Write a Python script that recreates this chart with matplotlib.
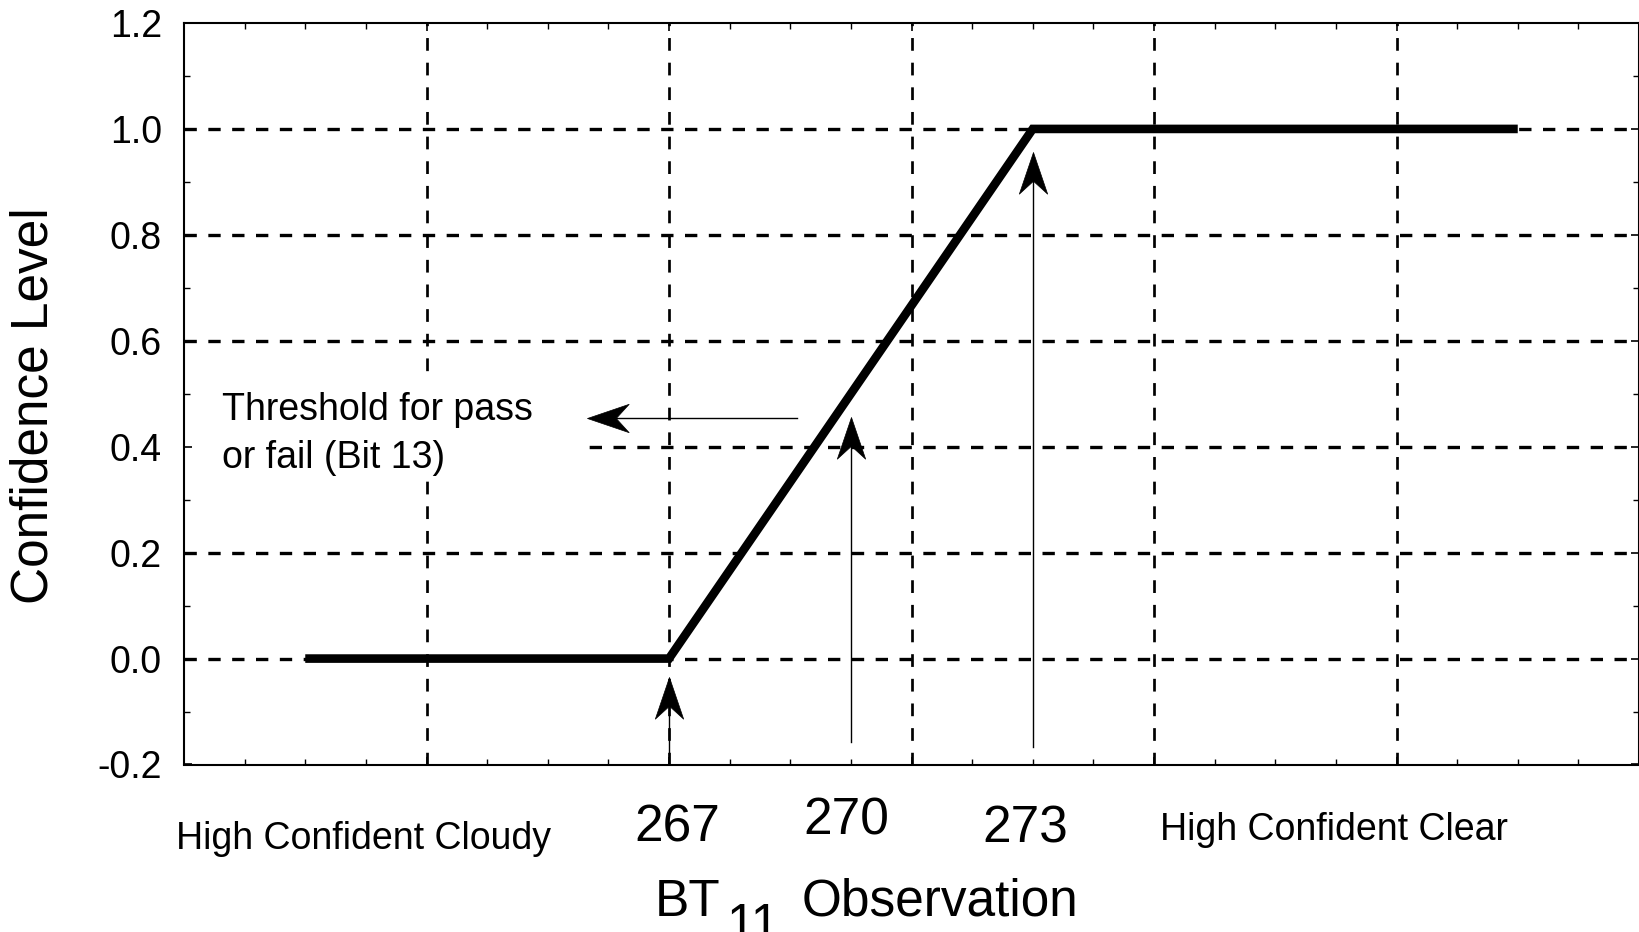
import numpy as np
import matplotlib
matplotlib.use("Agg")
import matplotlib.pyplot as plt
from matplotlib.path import Path
from matplotlib.patches import Rectangle

plt.rcParams['font.family'] = ['Liberation Sans', 'DejaVu Sans']

# confidence ramp for the BT11 test
bt_obs = [261, 267, 273, 281]
confidence = [0.0, 0.0, 1.0, 1.0]

# threshold arrows (high cloudy, pass/fail, high clear)
thresh_bt = [267, 270, 273]
thresh_labels = ["267", "270", "273"]
arrow_base = [-0.2, -0.157, -0.167]
arrow_tip = [-0.035, 0.456, 0.957]

# pass/fail pointer
pointer_x = [269.11, 265.65]
pointer_y = 0.455

x_major = np.arange(259, 284, 4)
x_minor = np.arange(259, 284, 1)
y_major = np.round(np.arange(-0.2, 1.21, 0.2), 1)
y_minor = np.round(np.arange(-0.2, 1.21, 0.1), 1)

W, H = 1639, 932


def stealth(direction="up"):
    verts = [(0, 0), (0.34, -1), (0, -0.69), (-0.34, -1), (0, 0)]
    if direction == "left":
        verts = [(-y, x) for x, y in verts]
    codes = [Path.MOVETO, Path.LINETO, Path.LINETO, Path.LINETO, Path.CLOSEPOLY]
    return Path(verts, codes)


fig = plt.figure(figsize=(W / 100, H / 100), dpi=100)
ax = fig.add_axes([184 / W, 1 - 764.5 / H, 1 - 184 / W, (764.5 - 23) / H])
ax.set_xlim(259, 283)
ax.set_ylim(-0.2, 1.2)

# dashed grid
for x in x_major[1:-1]:
    ax.axvline(x, color="k", lw=1.95, ls=(0, (4.7, 4.4)), zorder=1)
for y in y_major[1:-1]:
    ax.axhline(y, color="k", lw=2.4, ls=(0, (3.7, 3.45)), zorder=1)

# white box behind the annotation text
ax.add_patch(Rectangle((259, 0.339), 265.65 - 259, 0.539 - 0.339,
                       facecolor="white", edgecolor="none", zorder=1.5))

ax.plot(bt_obs, confidence, color="k", lw=6.2, solid_capstyle="butt",
        solid_joinstyle="miter", zorder=3)

# upward arrows
for bt, y0, y1 in zip(thresh_bt, arrow_base, arrow_tip):
    ax.plot([bt, bt], [y0, y1 - 0.04], color="k", lw=1.0, zorder=4, clip_on=False)
    ax.plot([bt], [y1], marker=stealth("up"), ms=60, color="k", mew=0.5,
            zorder=4, clip_on=False)

# left arrow
ax.plot([pointer_x[0], pointer_x[1] + 0.3], [pointer_y, pointer_y], color="k", lw=1.0, zorder=4)
ax.plot([pointer_x[1]], [pointer_y], marker=stealth("left"), ms=60, color="k", mew=0.5, zorder=4)

ax.text(259.62, 0.450, "Threshold for pass", fontsize=27, ha="left", va="baseline", zorder=5)
ax.text(259.62, 0.359, "or fail (Bit 13)", fontsize=27, ha="left", va="baseline", zorder=5)

for bt, lab, dx, yb in zip(thresh_bt, thresh_labels, [0.14, -0.07, -0.12], [-0.345, -0.333, -0.347]):
    ax.text(bt + dx, yb, lab, fontsize=37, ha="center", va="baseline", clip_on=False)

ax.text(258.86, -0.359, "High Confident Cloudy", fontsize=27, ha="left", va="baseline", clip_on=False)
ax.text(275.1, -0.343, "High Confident Clear", fontsize=27, ha="left", va="baseline", clip_on=False)

# axis titles
fig.text(655 / W, 1 - 916 / H, "BT", fontsize=37, ha="left", va="baseline")
fig.text(726 / W, 1 - 940 / H, "11", fontsize=37, ha="left", va="baseline")
fig.text(802 / W, 1 - 916 / H, "Observation", fontsize=37, ha="left", va="baseline")
fig.text(34.5 / W, 1 - 405.6 / H, "Confidence Level", fontsize=37, rotation=90,
         ha="center", va="center")

ax.set_xticks(x_major)
ax.set_xticks(x_minor, minor=True)
ax.set_yticks(y_major)
ax.set_yticks(y_minor, minor=True)
ax.set_yticklabels([f"{v:.1f}" for v in y_major])
ax.tick_params(which="both", direction="in", top=True, right=True, labelbottom=False)
ax.tick_params(which="major", length=6, width=1.2)
ax.tick_params(which="minor", length=4, width=1.0)
ax.tick_params(axis="y", labelsize=27, pad=16)
for s in ax.spines.values():
    s.set_linewidth(1.5)

fig.savefig("out.png", dpi=100, facecolor="white")
